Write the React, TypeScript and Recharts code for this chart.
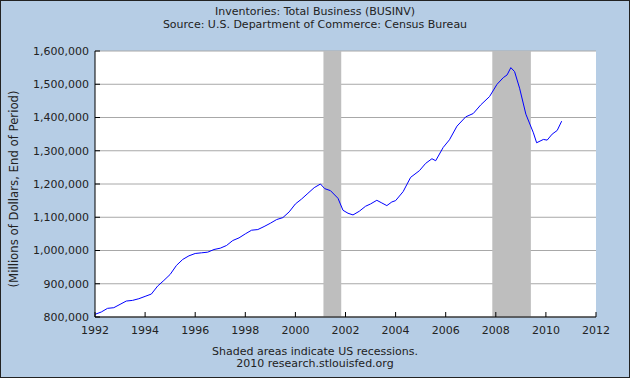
import { LineChart, Line, XAxis, YAxis, CartesianGrid, ReferenceArea } from 'recharts'

// dates (decimal years) and values
const dates = [
  1992.0, 1992.25, 1992.5, 1992.75, 1993.0, 1993.25, 1993.5, 1993.75,
  1994.0, 1994.25, 1994.5, 1994.75, 1995.0, 1995.25, 1995.5, 1995.75,
  1996.0, 1996.25, 1996.5, 1996.75, 1997.0, 1997.25, 1997.5, 1997.75,
  1998.0, 1998.25, 1998.5, 1998.75, 1999.0, 1999.25, 1999.5, 1999.75,
  2000.0, 2000.25, 2000.5, 2000.75, 2001.0, 2001.17, 2001.4, 2001.7,
  2001.9, 2002.1, 2002.3, 2002.55, 2002.8, 2003.0, 2003.25, 2003.45,
  2003.65, 2003.85, 2004.0, 2004.3, 2004.6, 2004.95, 2005.2, 2005.45,
  2005.6, 2005.9, 2006.15, 2006.45, 2006.8, 2007.1, 2007.4, 2007.75,
  2008.05, 2008.3, 2008.45, 2008.6, 2008.75, 2008.95, 2009.2, 2009.5,
  2009.63, 2009.9, 2010.05, 2010.25, 2010.45, 2010.63,
]
const inventories = [
  808000, 815000, 826000, 828000, 838000, 848000, 850000, 855000,
  862000, 869000, 893000, 910000, 928000, 955000, 973000, 984000,
  991000, 993000, 995000, 1003000, 1007000, 1015000, 1030000, 1038000,
  1050000, 1061000, 1063000, 1072000, 1082000, 1093000, 1099000, 1116000,
  1140000, 1155000, 1172000, 1189000, 1200000, 1186000, 1180000, 1157000,
  1121000, 1112000, 1107000, 1118000, 1133000, 1140000, 1151000, 1143000,
  1135000, 1146000, 1150000, 1177000, 1220000, 1240000, 1262000, 1276000,
  1270000, 1310000, 1333000, 1374000, 1402000, 1412000, 1438000, 1463000,
  1500000, 1520000, 1528000, 1550000, 1538000, 1488000, 1410000, 1354000,
  1324000, 1334000, 1332000, 1350000, 1361000, 1389000,
]
const yearTicks = [1992, 1994, 1996, 1998, 2000, 2002, 2004, 2006, 2008, 2010, 2012]
const valueTicks = [800000, 900000, 1000000, 1100000, 1200000, 1300000, 1400000, 1500000, 1600000]
const recessions = [
  [2001.12, 2001.83],
  [2007.86, 2009.4],
]

const FONT = '"DejaVu Sans", Verdana, sans-serif'
const BG = '#b6cde5'

const data = dates.map((d, i) => ({ date: d, value: inventories[i] }))

const text = (top: number, s: string) => (
  <div
    style={{
      position: 'absolute',
      left: 0,
      width: 630,
      top,
      textAlign: 'center',
      fontFamily: FONT,
      fontSize: 11,
      color: '#222',
      lineHeight: '13px',
    }}
  >
    {s}
  </div>
)

export default function App() {
  return (
    <div style={{ position: 'fixed', left: 0, top: 0, width: 630, height: 378, background: BG }}>
      <LineChart width={630} height={378} data={data} margin={{ top: 51, right: 34, bottom: 0, left: 0 }}>
        <CartesianGrid vertical={false} stroke="#a8a8a8" fill="#fff" />
        {recessions.map(([a, b]) => (
          <ReferenceArea key={a} x1={a} x2={b} fill="#bebebe" fillOpacity={1} stroke="none" />
        ))}
        <XAxis
          dataKey="date"
          type="number"
          domain={[1992, 2012]}
          ticks={yearTicks}
          interval={0}
          height={61}
          tickSize={-5}
          tickMargin={14}
          axisLine={{ stroke: '#000' }}
          tickLine={{ stroke: '#000' }}
          tick={{ fill: '#222', fontFamily: FONT, fontSize: 11 }}
        />
        <YAxis
          type="number"
          domain={[800000, 1600000]}
          ticks={valueTicks}
          interval={0}
          width={95}
          tickSize={-5}
          tickMargin={11}
          axisLine={{ stroke: '#000' }}
          tickLine={{ stroke: '#000' }}
          tick={{ fill: '#222', fontFamily: FONT, fontSize: 11 }}
          tickFormatter={(v: number) => v.toLocaleString('en-US')}
        />
        <Line
          type="linear"
          dataKey="value"
          stroke="#0000ff"
          strokeWidth={1}
          dot={false}
          isAnimationActive={false}
        />
      </LineChart>
      {text(5, 'Inventories: Total Business (BUSINV)')}
      {text(18, 'Source: U.S. Department of Commerce: Census Bureau')}
      {text(345, 'Shaded areas indicate US recessions.')}
      {text(357, '2010 research.stlouisfed.org')}
      <div
        style={{
          position: 'absolute',
          left: 14,
          top: 189,
          transform: 'translate(-50%, -50%) rotate(-90deg)',
          whiteSpace: 'nowrap',
          fontFamily: FONT,
          fontSize: 11.7,
          color: '#222',
          lineHeight: '13px',
        }}
      >
        (Millions of Dollars, End of Period)
      </div>
      <div
        style={{
          position: 'absolute',
          inset: 0,
          border: '1px solid #222',
          pointerEvents: 'none',
        }}
      />
    </div>
  )
}
